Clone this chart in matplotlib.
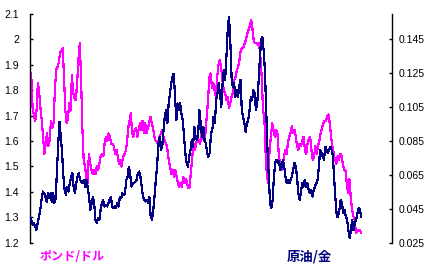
import numpy as np
import matplotlib
matplotlib.use("Agg")
import matplotlib.pyplot as plt
from matplotlib.ticker import FixedLocator, FuncFormatter

# ポンド/ドル (left axis)
gbpusd = [
    1.88, 1.853, 1.73, 1.70, 1.68, 1.72, 1.83, 1.79, 1.73, 1.68, 1.617, 1.55, 1.59, 1.63, 1.58, 1.60,
    1.68, 1.65, 1.67, 1.80, 1.88, 1.89, 1.91, 1.95, 1.955, 1.966, 1.85, 1.72, 1.67, 1.69, 1.75, 1.72,
    1.86, 1.79, 1.77, 1.76, 1.83, 1.92, 1.985, 1.85, 1.65, 1.525, 1.50, 1.46, 1.435, 1.55, 1.51, 1.485,
    1.47, 1.485, 1.47, 1.50, 1.485, 1.51, 1.54, 1.55, 1.54, 1.59, 1.617, 1.60, 1.63, 1.617, 1.59,
    # --
    1.59, 1.58, 1.55, 1.565, 1.54, 1.51, 1.525, 1.50, 1.54, 1.545, 1.56, 1.59, 1.65, 1.68, 1.71, 1.63,
    1.617, 1.645, 1.65, 1.617, 1.645, 1.67, 1.645, 1.68, 1.63, 1.67, 1.63, 1.65, 1.67, 1.695, 1.67, 1.65,
    1.617, 1.60, 1.60, 1.58, 1.617, 1.63, 1.645, 1.617, 1.60, 1.59, 1.565, 1.525, 1.50, 1.47, 1.485, 1.46,
    1.485, 1.46, 1.435, 1.42, 1.435, 1.42, 1.46, 1.435, 1.45, 1.435, 1.415, 1.42, 1.485, 1.54, 1.59,
    # --
    1.565, 1.59, 1.617, 1.60, 1.59, 1.63, 1.617, 1.60, 1.63, 1.695, 1.76, 1.853, 1.866, 1.81, 1.83, 1.80,
    1.775, 1.853, 1.90, 1.92, 1.89, 1.84, 1.80, 1.79, 1.76, 1.775, 1.73, 1.75, 1.775, 1.79, 1.84, 1.853,
    1.88, 1.89, 1.92, 1.958, 1.965, 1.97, 1.985, 1.998, 2.024, 2.037, 2.055, 2.076, 2.037, 1.99, 1.985, 1.985,
    1.978, 1.985, 1.93, 1.853, 1.72, 1.695, 1.55, 1.46, 1.435, 1.565, 1.617, 1.67, 1.645, 1.617, 1.645, 1.63,
    # --
    1.55, 1.51, 1.485, 1.50, 1.54, 1.565, 1.55, 1.59, 1.617, 1.63, 1.66, 1.63, 1.645, 1.617, 1.58, 1.565,
    1.59, 1.58, 1.60, 1.617, 1.565, 1.55, 1.59, 1.61, 1.617, 1.565, 1.525, 1.54, 1.58, 1.55, 1.58, 1.60,
    1.63, 1.65, 1.67, 1.68, 1.68, 1.695, 1.705, 1.67, 1.617, 1.58, 1.55, 1.525, 1.51, 1.54, 1.525, 1.55,
    1.54, 1.51, 1.485, 1.485, 1.435, 1.395, 1.45, 1.38, 1.33, 1.305, 1.29, 1.238, 1.25, 1.245, 1.25, 1.238,
]

# 原油/金 (right axis)
oil_gold = [
    0.0405, 0.0385, 0.0356, 0.0366, 0.0346, 0.0326, 0.0366, 0.0405, 0.0444, 0.0503, 0.0552, 0.0542, 0.0522,
    0.0493, 0.0542, 0.0513, 0.0542, 0.0493, 0.0542, 0.0485, 0.0513, 0.068, 0.0838, 0.0964, 0.0875, 0.078,
    0.064, 0.0562, 0.0532, 0.0581, 0.0552, 0.0601, 0.064, 0.066, 0.0581, 0.0542, 0.0601, 0.064, 0.066,
    0.062, 0.061, 0.0601, 0.062, 0.0581, 0.062, 0.0571, 0.0522, 0.0444, 0.0483, 0.0522, 0.0483, 0.0385,
    0.0366, 0.0395, 0.0385, 0.0444, 0.0483, 0.0503, 0.0464, 0.0474, 0.0464, 0.0483, 0.0503, 0.0522,
    # --
    0.0464, 0.0454, 0.0464, 0.0454, 0.0483, 0.0464, 0.0522, 0.0513, 0.0542, 0.0532, 0.0542, 0.062, 0.064,
    0.0699, 0.066, 0.0581, 0.0601, 0.0601, 0.061, 0.062, 0.066, 0.067, 0.064, 0.0581, 0.0522, 0.0503,
    0.0493, 0.0503, 0.0483, 0.0522, 0.0405, 0.0385, 0.0444, 0.0522, 0.062, 0.0699, 0.0836, 0.0875, 0.0797,
    0.0817, 0.0914, 0.0993, 0.1032, 0.0954, 0.1072, 0.113, 0.119, 0.123, 0.1248, 0.111, 0.0974, 0.1072,
    0.1032, 0.1072, 0.101, 0.0974, 0.0875, 0.078, 0.072, 0.0699, 0.0757, 0.0797, 0.0856, 0.0817, 0.0934,
    # --
    0.0875, 0.0856, 0.0895, 0.1032, 0.0954, 0.0875, 0.0934, 0.0856, 0.0836, 0.078, 0.0757, 0.078, 0.0895,
    0.0914, 0.0993, 0.0954, 0.1091, 0.113, 0.119, 0.113, 0.1052, 0.119, 0.1268, 0.121, 0.1346, 0.15,
    0.1585, 0.1444, 0.123, 0.117, 0.119, 0.111, 0.115, 0.111, 0.117, 0.121, 0.1032, 0.0993, 0.0954,
    0.0905, 0.0954, 0.0974, 0.1032, 0.111, 0.1091, 0.115, 0.113, 0.1032, 0.1072, 0.119, 0.1326, 0.1444,
    0.1464, 0.1385, 0.1268, 0.1032, 0.0797, 0.064, 0.0483, 0.0454, 0.0503, 0.064, 0.072, 0.074, 0.072,
    0.073, 0.068, 0.0699,
    # --
    0.074, 0.0699, 0.064, 0.0601, 0.062, 0.0601, 0.062, 0.064, 0.068, 0.072, 0.0699, 0.064, 0.0542,
    0.0503, 0.0542, 0.0601, 0.0581, 0.062, 0.0581, 0.0601, 0.0562, 0.0542, 0.0562, 0.0522, 0.0562,
    0.0581, 0.0601, 0.062, 0.0699, 0.0797, 0.078, 0.0757, 0.074, 0.0817, 0.0797, 0.078, 0.0797, 0.0817,
    0.0797, 0.0757, 0.062, 0.0503, 0.0405, 0.0405, 0.0444, 0.0503, 0.0483, 0.0424, 0.0444, 0.0405,
    0.0385, 0.0326, 0.0277, 0.0326, 0.0385, 0.0326, 0.0366, 0.0385, 0.0424, 0.0454, 0.0444, 0.0405,
]

left_ticks = [1.2, 1.3, 1.4, 1.5, 1.6, 1.7, 1.8, 1.9, 2.0, 2.1]
right_ticks = [0.025, 0.045, 0.065, 0.085, 0.105, 0.125, 0.145]
label_left = "ポンド/ドル"
label_right = "原油/金"

MAGENTA = "#FF00FF"
NAVY = "#000080"

fig = plt.figure(figsize=(4.32, 2.71), dpi=100)
ax = fig.add_axes([30 / 432, 28.3 / 271, 362 / 432, 228.7 / 271])
ax2 = ax.twinx()

x1 = np.linspace(0, 1, len(gbpusd))
x2 = np.linspace(0, 1, len(oil_gold))
ax.plot(x1, gbpusd, color=MAGENTA, lw=0.85, antialiased=False)
ax2.plot(x2, oil_gold, color=NAVY, lw=0.85, antialiased=False)

ax.set_xlim(0, 1.093)
ax.set_ylim(1.2, 2.1)
ax2.set_ylim(0.025, 0.16)

for a in (ax, ax2):
    a.set_facecolor("none")
    for s in ("top", "bottom"):
        a.spines[s].set_visible(False)
    a.set_xticks([])
ax.spines["right"].set_visible(False)
ax2.spines["left"].set_visible(False)
ax.spines["left"].set_linewidth(1.0)
ax2.spines["right"].set_linewidth(1.0)

ax.yaxis.set_major_locator(FixedLocator(left_ticks))
ax.yaxis.set_major_formatter(FuncFormatter(lambda v, p: f"{v:g}"))
ax2.yaxis.set_major_locator(FixedLocator(right_ticks))
ax2.yaxis.set_major_formatter(FuncFormatter(lambda v, p: f"{v:.3f}"))

ax.tick_params(axis="y", direction="in", length=2.5, width=1.0, pad=8,
               labelsize=7.5, labelfontfamily="Liberation Sans")
ax2.tick_params(axis="y", direction="in", length=2.5, width=1.0, pad=4.5,
                labelsize=7.5, labelfontfamily="Liberation Sans")

fig.text(40 / 432, 1 - 256.5 / 271, label_left, color=MAGENTA, fontsize=8.7,
         fontweight="bold", family=["Noto Sans CJK JP", "DejaVu Sans"], va="center", ha="left")
fig.text(287 / 432, 1 - 256.5 / 271, label_right, color=NAVY, fontsize=9.6,
         fontweight="bold", family=["Noto Sans CJK JP", "DejaVu Sans"], va="center", ha="left")

fig.savefig("out.png", dpi=100)
